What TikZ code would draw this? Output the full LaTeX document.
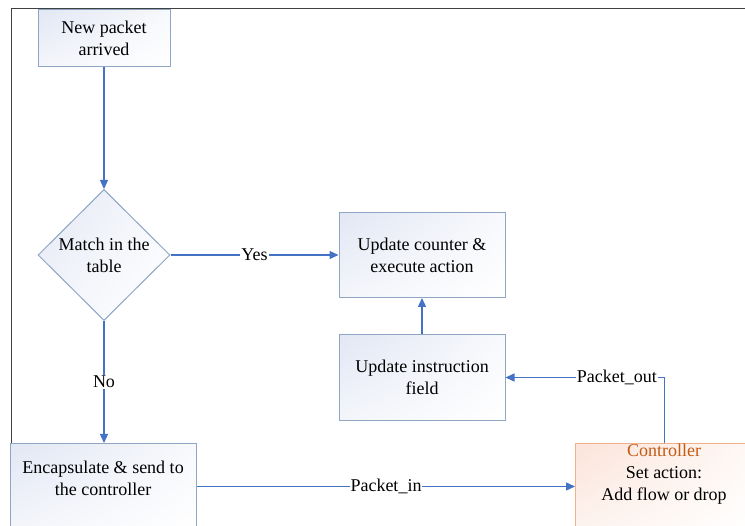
\documentclass[tikz,border=0pt]{standalone}
\usepackage{fontspec}
\setmainfont{Liberation Serif}
\newfontfamily\diagfont{Liberation Serif}
\usetikzlibrary{shapes.geometric,arrows.meta,shadings}
\definecolor{lnblue}{HTML}{4472C4}
\definecolor{bxborder}{HTML}{8FA5C4}
\definecolor{bxfill}{HTML}{E2E7F4}
\definecolor{ctborder}{HTML}{F0B08A}
\definecolor{ctfill}{HTML}{FBE4DA}
\definecolor{cttext}{HTML}{C55A11}
\definecolor{framegray}{HTML}{404040}
\tikzset{
  txt/.style={font=\diagfont\fontsize{18}{22}\selectfont, align=center, inner sep=0pt},
  box/.style={txt, draw=bxborder, line width=1pt,
    upper left=bxfill, lower left=bxfill!40!white, upper right=bxfill!25!white, lower right=white},
  cbox/.style={draw=ctborder, line width=1pt,
    upper left=ctfill, lower left=ctfill!45!white, upper right=ctfill!25!white, lower right=white},
  decision/.style={txt, diamond, shape aspect=1, draw=bxborder, line width=1pt,
    upper left=bxfill, lower left=bxfill!40!white, upper right=bxfill!25!white, lower right=white},
  conn/.style={draw=lnblue, line width=1.4pt, -{Triangle[length=9pt,width=8pt]}},
  lbl/.style={txt, fill=white, inner xsep=1pt, inner ysep=1pt},
  framestyle/.style={draw=framegray, line width=1pt}
}
\begin{document}
\begin{tikzpicture}[x=1pt,y=-1pt]
\useasboundingbox (0,0) rectangle (745,526);
\clip (0,0) rectangle (745,526);
\fill[white] (0,0) rectangle (745,526);
\draw[framestyle] (11,527) -- (11,9) -- (746,9);

\node[box, minimum width=132, minimum height=57] (new) at (104,38.5) {New packet\\arrived};
\node[decision, minimum width=132, minimum height=131] (match) at (104,255) {Match in the\\table};
\node[box, minimum width=166, minimum height=85] (upd) at (422,255) {Update counter \&\\execute action};
\node[box, minimum width=166, minimum height=86] (instr) at (422,377.5) {Update instruction\\field};
\node[box, minimum width=186, minimum height=86, anchor=north west] (enc) at (10,443) {};
\node[txt] (enctext) at (103,478) {Encapsulate \& send to\\the controller};
\node[cbox, minimum width=178, minimum height=86, anchor=north west] (ctrl) at (575,443) {};
\node[txt] (ctrltext) at (664,474.5) {\textcolor{cttext}{Controller}\\Set action:\\Add flow or drop};

\draw[conn] (new) -- (match);
\draw[conn] (match.east) -- node[lbl]{Yes} (upd.west);
\draw[conn] (match.south) -- node[lbl]{No} (match.south |- enc.north);
\draw[conn] (instr) -- (upd);
\draw[conn] (enc.east) -- node[lbl]{Packet\_in} (ctrl.west);
\draw[conn] (ctrl.north) |- node[lbl, pos=0.65]{Packet\_out} (instr.east);
\end{tikzpicture}
\end{document}
